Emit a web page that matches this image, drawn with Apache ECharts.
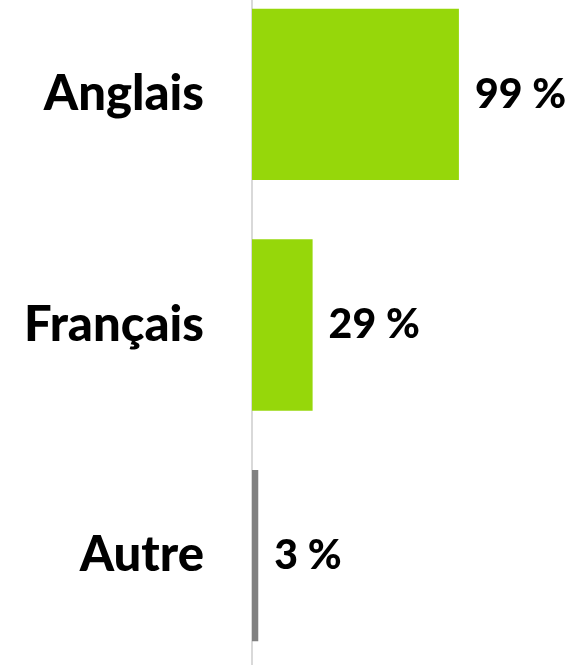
<!DOCTYPE html>
<html>
<head>
<meta charset="UTF-8">
<title>Langues</title>
<script src="https://cdn.jsdelivr.net/npm/echarts@6/dist/echarts.min.js"></script>
</head>
<body style="margin:0;background:#fff;">
<div id="container" style="width:572px;height:665px;"></div>
<script type="text/javascript">
var languages = ['Anglais', 'Français', 'Autre'];
var shares = [99, 29, 3];
var barColors = ['#96d70a', '#96d70a', '#808080'];

var chart = echarts.init(document.getElementById('container'));
var option = {
  animation: false,
  grid: { left: 252, top: -21, width: 209, height: 692, outerBoundsMode: 'none' },
  xAxis: {
    type: 'value', min: 0, max: 100,
    show: false
  },
  yAxis: {
    type: 'category',
    inverse: true,
    data: languages,
    axisLine: { show: true, lineStyle: { color: '#d9d9d9', width: 2 } },
    axisTick: { show: false },
    axisLabel: {
      margin: 48,
      fontFamily: 'Lato',
      fontWeight: 900,
      fontSize: 49,
      color: '#000'
    }
  },
  series: [{
    type: 'bar',
    barCategoryGap: '25.7%',
    data: shares.map(function (v, i) {
      return { value: v, itemStyle: { color: barColors[i] } };
    }),
    label: {
      show: true,
      position: 'right',
      distance: 16,
      formatter: '{c} %',
      fontFamily: 'Lato',
      fontWeight: 900,
      fontSize: 41,
      color: '#000'
    }
  }]
};
chart.setOption(option);
</script>
</body>
</html>
